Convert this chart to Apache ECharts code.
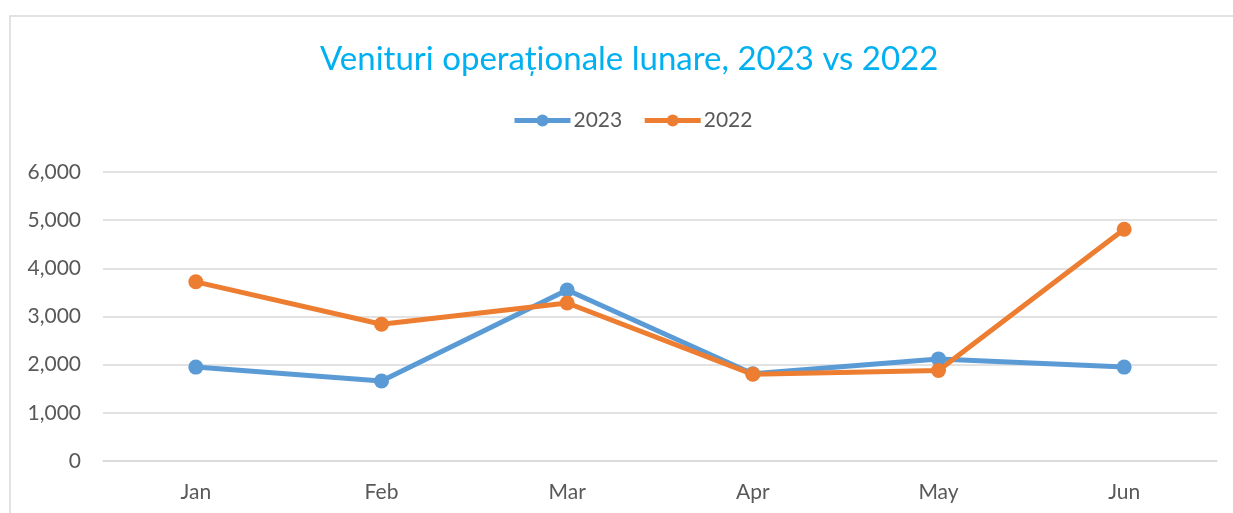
<!DOCTYPE html>
<html>
<head>
<meta charset="utf-8">
<script src="https://cdn.jsdelivr.net/npm/echarts@6/dist/echarts.min.js"></script>
<style>
  html, body { margin: 0; padding: 0; background: #fff; }
  #chart { width: 1233px; height: 513px; }
</style>
</head>
<body>
<div id="chart"></div>
<script>
// date
const months = ['Jan', 'Feb', 'Mar', 'Apr', 'May', 'Jun']
const venit2023 = [1950, 1660, 3550, 1810, 2120, 1950]
const venit2022 = [3720, 2840, 3280, 1800, 1880, 4810]
const yTicks = { min: 0, max: 6000, interval: 1000 }

const font = 'Lato, "Open Sans", sans-serif'
const chart = echarts.init(document.getElementById('chart'))

const lineSeries = (name, data, color) => ({
  name: name,
  type: 'line',
  data: data,
  symbol: 'circle',
  symbolSize: 15,
  color: color,
  lineStyle: { width: 5, color: color },
  itemStyle: { color: color }
})

chart.setOption({
  animation: false,
  title: {
    text: 'Venituri operaționale lunare, 2023 vs 2022',
    left: 320,
    top: 43,
    padding: 0,
    textStyle: { color: '#00b0f0', fontSize: 33, fontWeight: 'normal', fontFamily: font }
  },
  legend: {
    left: 512,
    top: 110,
    padding: 0,
    itemWidth: 56,
    itemHeight: 15,
    itemGap: 20,
    lineStyle: { width: 5 },
    textStyle: { color: '#595959', fontSize: 21, fontFamily: font, padding: [0, 0, 0, -2] },
    data: ['2023', '2022']
  },
  graphic: [{
    type: 'rect',
    shape: { x: 10, y: 16, width: 1240, height: 520 },
    style: { fill: 'none', stroke: '#d9d9d9', lineWidth: 1.5 },
    silent: true
  }],
  grid: { left: 103, right: 16, top: 172, bottom: 52 },
  xAxis: {
    type: 'category',
    data: months,
    boundaryGap: true,
    axisLine: { lineStyle: { color: '#d9d9d9', width: 1.5 } },
    axisTick: { show: false },
    axisLabel: { color: '#595959', fontSize: 21, fontFamily: font, margin: 21 }
  },
  yAxis: {
    type: 'value',
    min: yTicks.min,
    max: yTicks.max,
    interval: yTicks.interval,
    axisLine: { show: false },
    axisTick: { show: false },
    axisLabel: {
      color: '#595959', fontSize: 21, fontFamily: font, margin: 22,
      formatter: v => v.toLocaleString('en-US')
    },
    splitLine: { lineStyle: { color: '#d9d9d9', width: 1.5 } }
  },
  series: [
    lineSeries('2023', venit2023, '#5b9bd5'),
    lineSeries('2022', venit2022, '#ed7d31')
  ]
})
</script>
</body>
</html>
